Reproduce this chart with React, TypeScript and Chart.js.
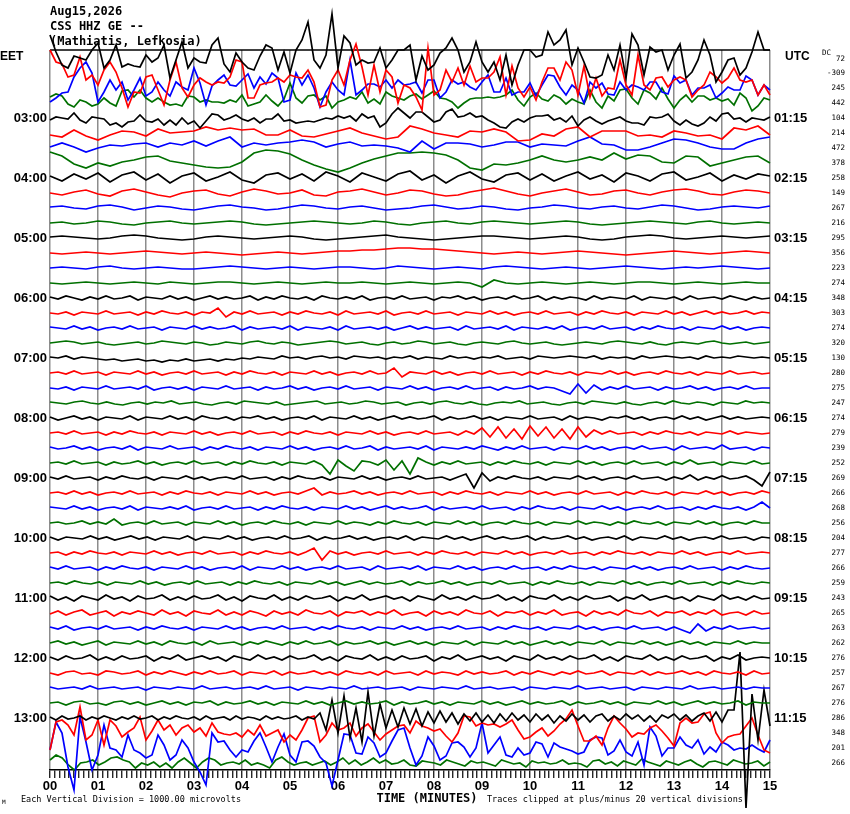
import React, { useEffect, useRef } from 'react';
import { Chart, registerables } from 'chart.js';

Chart.register(...registerables);

// ---------- labels ----------
const titleLines = ['Aug15,2026', 'CSS HHZ GE --', '(Mathiatis, Lefkosia)'];
const minuteLabels = ['00', '01', '02', '03', '04', '05', '06', '07', '08', '09', '10', '11', '12', '13', '14', '15'];
const eetHourLabels = ['03:00', '04:00', '05:00', '06:00', '07:00', '08:00', '09:00', '10:00', '11:00', '12:00', '13:00'];
const utcHourLabels = ['01:15', '02:15', '03:15', '04:15', '05:15', '06:15', '07:15', '08:15', '09:15', '10:15', '11:15'];
const dcOffsets = [72, -309, 245, 442, 104, 214, 472, 378, 258, 149, 267, 216, 295, 356, 223, 274, 348, 303, 274, 320, 130, 280, 275, 247, 274, 279, 239, 252, 269, 266, 268, 256, 204, 277, 266, 259, 243, 265, 263, 262, 276, 257, 267, 276, 286, 348, 201, 266];
const traceColors = ['#000000', '#ff0000', '#0000ff', '#007000'];

// ---------- trace deflections (1 unit = 1/15 of a row spacing), evenly spaced over 0..15 min ----------
const row00 = [23,6,-7,-10,2,0,-2,8,15,-10,-2,13,-9,-6,-8,-9,3,-4,0,13,-20,-2,16,-10,0,-4,-5,13,20,-6,-14,5,-4,-10,-12,2,13,10,-12,6,-15,8,18,36,-2,-10,3,44,-10,22,15,-7,-2,-5,-4,10,-10,-2,8,8,13,-22,2,-12,-7,5,10,20,8,-14,-4,16,-4,-14,-4,-22,3,-27,-7,8,8,1,3,26,13,18,28,-7,10,-4,-19,-20,-17,3,-12,13,-20,24,13,-17,11,6,8,-12,3,14,-20,-14,-2,18,3,-24,-14,-2,0,-17,-10,6,26,8,8];
const row01 = [23,11,9,-4,-2,16,-7,-2,-12,3,11,1,-15,-34,-19,-20,-4,-2,-17,-32,-7,11,-15,-24,-12,-5,-9,-12,-9,-10,-4,13,11,-25,-25,-12,-10,-9,-5,-9,-2,-4,-5,3,-9,-34,-32,-7,3,-12,13,29,6,-22,8,-19,3,-4,-30,-12,-15,-24,-37,25,-22,-17,3,-9,5,-12,7,-9,-5,-5,1,16,-22,7,-15,-24,-14,-27,-9,5,5,-7,11,3,-22,7,-24,-5,-23,-15,-16,13,-12,-22,18,-12,-17,-5,-4,-14,-7,-4,-7,-24,-17,-12,1,-4,-10,-5,5,-7,-9,-7,-22,-12,-22];
const row02 = [-14,-10,-5,-4,11,20,26,15,-14,-4,8,-2,6,-12,-2,10,-8,-4,6,-2,-8,6,1,-2,20,5,-17,2,8,13,3,2,8,14,0,11,4,15,10,-14,-12,15,3,13,0,-19,-4,6,-2,-7,28,-7,-2,4,4,1,8,0,8,3,4,6,-5,8,8,-10,-4,8,4,6,1,-2,6,13,-4,-4,10,-7,-4,-4,5,-8,3,13,12,1,-7,3,-2,-15,6,0,5,-6,-7,6,-2,3,1,-2,6,6,-4,-6,12,5,8,-7,0,0,3,-10,-5,1,-2,-2,12,8,-7,3,-2];
const row03 = [6,9,7,-1,-4,3,1,-3,-1,5,0,-3,12,13,6,13,5,1,5,1,-2,-1,-3,7,6,1,3,1,1,0,3,1,8,-3,-1,1,8,2,-3,4,20,5,0,7,8,3,7,-5,1,3,6,4,11,0,4,-1,11,7,5,3,7,9,4,8,12,5,4,1,-5,0,4,5,5,6,5,6,8,13,3,-3,6,10,4,2,8,5,-1,4,1,-1,13,1,-5,7,2,13,14,5,-1,13,10,4,15,4,-5,3,8,1,7,7,3,5,2,4,-2,10,5,-8,-3,5,3];
const row04 = [-2,1,0,-1,5,-2,-5,1,0,-1,-7,-5,-9,-4,-3,3,-3,-4,-1,-7,-2,-7,0,-6,-3,-10,-3,4,3,-2,0,3,-1,-3,0,-5,-1,-1,4,-3,-2,-5,-4,-3,-4,-2,0,-1,2,0,2,-3,4,0,2,-9,-5,4,10,5,0,6,6,1,-4,-2,6,9,1,2,5,1,2,-2,-5,-9,-10,-4,-1,-4,0,2,2,3,-2,0,-4,2,-8,-2,1,-3,-6,-3,-1,1,-3,-5,-5,-7,1,0,1,4,-3,-7,-2,-6,-8,-5,1,-3,4,5,-1,0,-4,0,-1,-2,1];
const row05 = [-2,-4,3,-3,-7,-2,2,1,-3,4,0,1,2,6,3,5,3,4,-2,-2,3,-3,-4,-1,2,5,0,-3,-6,-4,7,4,0,-2,-4,2,1,4,1,-8,-7,-1,-3,4,6,-4,2,2,2,-3,-2,-4,2,0,-3,-2,-6,5,3,7,-2];
const row06 = [1,5,1,-4,0,3,2,4,5,1,5,3,7,2,7,11,1,5,3,5,6,8,6,1,4,6,2,3,2,0,-4,7,-1,5,5,4,1,3,6,6,1,4,3,2,7,11,4,3,-2,-2,1,5,9,8,5,1,-1,-1,5,9,11];
const row07 = [11,7,-1,-5,0,-3,1,3,6,7,2,0,-2,-4,-5,-4,1,10,13,12,9,3,-2,-6,-9,-5,0,4,7,10,10,11,10,8,3,-5,-7,-1,-2,0,3,7,3,1,3,6,3,10,4,8,7,1,0,7,6,-3,0,3,6,7,0];
const row08 = [2,-3,4,-1,5,-4,3,6,-2,4,-5,2,5,-3,1,6,-2,-5,3,5,-1,4,-3,6,2,-4,5,1,-3,4,7,-2,3,-5,2,6,-1,-4,3,5,-2,4,-3,2,6,-1,3,-4,5,2,-3,4,6,-2,1,5,-3,3,-1,4,2];
const row09 = [0,-2,1,3,-1,-3,2,4,1,-2,-4,0,2,3,-1,-3,1,4,2,-1,0,3,-2,-3,1,2,4,1,-2,0,3,2,-1,-3,-2,1,3,5,2,-1,-3,0,2,4,1,-2,-1,2,3,0,-2,1,3,4,2,-1,-2,1,3,2,0];
const row10 = [1,2,0,-1,2,3,1,-2,0,2,1,-1,-2,0,2,3,1,0,-2,-1,1,3,2,0,-1,1,2,0,-2,-1,0,2,3,1,-1,0,2,1,-1,-2,0,1,3,2,0,-1,1,2,0,-1,1,3,2,0,-2,-1,1,2,1,0,2];
const row11 = [0,1,-1,0,2,1,-1,-2,0,1,2,0,-1,0,1,2,1,-1,-2,-1,0,1,2,1,0,-1,0,2,1,-1,-2,0,1,2,0,-1,1,2,1,0,-1,0,1,2,1,-1,-2,-1,0,1,2,1,0,-1,1,2,0,-1,0,1,0];
const row12 = [1,2,1,0,-1,0,2,3,2,0,-1,-2,-1,1,2,1,0,-1,0,1,2,1,-1,-2,-1,0,1,2,3,1,0,-1,-2,-1,0,1,2,2,1,0,-1,0,1,2,1,-1,-2,-1,1,2,3,2,0,-1,0,1,2,1,0,1,2];
const row13 = [0,-1,0,1,0,-1,0,1,2,1,0,-1,0,1,0,-1,-2,-1,0,1,0,-1,0,1,2,2,3,3,4,5,5,4,4,3,2,1,0,-1,0,1,0,-1,0,1,2,1,0,-1,-2,-1,0,1,2,1,0,-1,0,1,2,1,0];
const row14 = [0,1,0,-1,1,2,0,-1,0,1,0,-1,-1,0,1,2,1,0,-1,0,1,0,-1,0,1,1,0,-1,0,2,1,0,-1,0,1,0,-1,1,2,1,0,-1,0,1,0,-1,0,1,2,1,0,-1,0,1,0,1,2,1,0,-1,0];
const row15 = [0,-1,0,1,0,-1,0,1,0,-1,1,0,-1,0,1,1,0,-1,0,1,0,-1,0,1,0,0,1,0,-1,0,1,0,-1,0,1,0,-4,3,0,-1,0,1,0,-1,0,1,0,-1,0,1,1,0,-1,0,1,0,-1,0,1,0,0];
const row16 = [1,-1,2,0,-2,1,-1,2,-1,0,2,-2,1,0,-1,2,-1,1,-2,0,2,-1,1,-1,0,2,-2,1,-1,2,0,-1,1,-2,2,0,-1,1,-1,2,-2,0,1,-1,2,-1,0,1,-2,1,0,2,-1,1,-2,0,1,-1,2,-1,0,2,-2,1,-1,1,0,-2,2,-1,1,0,-1,2,-2,1,0,-1,1,-2,2,-1,0,1,-1,2,0,-2,1,-1,0];
const row17 = [0,-1,1,-2,1,0,-1,2,-1,0,1,-2,1,-1,2,0,-1,1,-2,1,0,5,-4,1,-1,2,-1,0,1,-2,1,-1,2,0,-1,1,-2,2,-1,0,1,-1,2,-2,0,1,-1,2,-1,0,1,-2,1,0,-1,2,-1,1,-2,0,1,-1,2,-1,0,1,-2,1,-1,2,0,-1,1,-2,1,0,-1,2,-1,1,-2,0,2,-1,1,-1,0,2,-1,1,0];
const row18 = [1,0,-1,2,-1,1,-2,0,1,-1,2,-1,0,1,-2,1,0,-1,2,-1,1,-1,0,2,-2,1,-1,0,1,-1,2,-2,1,0,-1,1,-2,2,-1,0,1,-1,1,-2,0,2,-1,1,-1,0,1,-2,2,-1,0,1,-1,2,-2,1,0,-1,1,-1,2,-2,0,1,-1,2,-1,0,1,-2,1,-1,2,0,-1,1,-2,1,0,-1,2,-1,1,-2,0,1,0];
const row19 = [0,1,2,1,-1,0,1,-1,-2,-1,0,1,-1,0,2,1,0,-1,1,0,-2,-1,1,0,-1,1,2,0,-1,1,0,-2,-1,0,1,2,1,-1,0,1,-1,-2,0,1,-1,0,2,1,-1,0,1,-1,-2,0,1,0,-1,1,2,0,-1,0,1,-1,-2,-1,0,1,0,-1,1,2,1,0,-1,1,-1,-2,0,1,0,-1,1,2,0,-1,0,1,-1,0,1];
const row20 = [1,0,2,-1,1,0,-1,-2,-1,-3,-2,-1,-3,-2,-4,-2,-3,-1,-3,-2,-1,-3,-1,-2,0,-1,1,0,-1,2,0,1,-1,1,2,0,1,-1,2,1,0,1,-1,1,0,2,-1,1,0,-1,2,0,1,-1,1,0,2,-1,0,1,-1,2,1,0,1,2,1,0,2,-1,1,0,1,-1,2,0,1,2,1,0,1,-1,2,0,1,0,2,1,0,1,0];
const row21 = [0,1,-1,2,-1,0,1,-2,1,0,-1,2,-1,1,-2,0,1,-1,2,-1,0,1,-2,1,-1,2,0,-1,1,-2,1,0,-1,2,-1,1,-2,0,1,-1,2,-1,0,5,-4,1,0,-1,2,-1,1,-2,0,1,-1,2,-1,0,1,-2,1,-1,2,0,-1,1,-2,1,0,-1,2,-1,1,-2,0,1,-1,2,0,-1,1,-2,1,0,-1,2,-1,0,1,-1,0];
const row22 = [0,-1,1,-2,1,0,-1,2,-1,0,1,-1,2,-2,0,1,-1,1,-2,1,0,-1,2,-1,0,1,-2,1,-1,0,2,-1,1,-2,0,1,-1,2,-1,0,1,-2,1,0,-1,2,-1,1,-2,0,1,-1,2,-1,0,1,-2,1,-1,0,2,-1,1,0,-3,-6,4,-5,3,-2,1,-1,2,-1,0,1,-2,1,-1,0,2,-1,1,-2,0,1,-1,2,-1,0,0];
const row23 = [1,0,-1,1,2,0,-1,1,-1,-2,0,1,-1,1,0,2,-1,0,1,-1,-2,0,1,-1,2,1,0,-1,1,-2,-1,0,1,2,-1,0,1,-1,0,2,1,-1,0,1,-2,0,1,-1,1,2,0,-1,1,-1,-2,0,1,0,2,-1,0,1,-1,-2,0,1,-1,2,1,0,-1,1,-1,-2,0,1,-1,2,0,-1,1,0,-2,1,0,-1,2,0,1,0];
const row24 = [1,-2,0,2,-1,1,-2,1,0,-1,2,-2,1,0,-1,2,-1,1,-2,2,0,-1,1,-2,1,0,2,-1,1,-2,0,1,-1,2,-2,1,0,-1,2,-1,1,-2,0,2,-1,1,-1,0,2,-2,1,-1,0,2,-1,1,-2,1,0,-1,2,-1,0,1,-2,2,-1,1,0,-2,1,0,2,-1,1,-2,0,1,-1,2,-1,1,-2,0,2,-1,1,-1,0,1,0];
const row25 = [0,1,-1,2,-1,0,1,-2,1,-1,2,0,-1,1,-2,1,0,-1,2,-1,1,-2,0,1,-1,2,-1,0,1,-2,1,-1,2,0,-1,1,-2,1,0,-1,2,-1,1,-2,0,1,-1,2,-1,0,1,-2,2,-1,5,-4,6,-5,4,-6,7,-3,6,-5,4,-6,6,-4,3,-1,2,-1,0,1,-2,1,-1,2,0,-1,1,-2,1,0,-1,2,-1,1,0,-1,0];
const row26 = [1,-1,0,2,-1,1,-2,0,1,-1,2,-2,1,0,-1,2,-1,0,1,-2,1,-1,2,0,-1,1,-2,1,0,-1,2,-1,1,-2,0,1,-1,2,-1,0,2,-2,1,-1,0,1,-1,2,-2,1,0,-1,1,-1,2,0,-2,1,-1,2,-1,0,1,-2,1,0,-1,2,-1,1,-2,0,1,-1,2,-1,0,1,-2,2,-1,0,1,-1,3,-1,0,1,-2,1,0];
const row27 = [0,1,-1,2,-1,0,1,-2,1,-1,0,2,-1,1,-2,0,1,-1,2,-1,0,1,-2,1,-1,2,0,-1,1,-2,1,0,-1,2,-2,-11,3,-3,-8,2,1,-2,3,-7,2,-11,5,1,-2,1,-1,2,-1,0,1,-2,1,-1,2,0,-1,1,-2,1,0,-1,2,-1,1,-2,0,1,-1,2,-1,0,1,-2,1,-1,3,-1,0,1,-2,1,0,-1,2,-1,0];
const row28 = [1,-1,2,-1,0,1,-2,1,-1,2,0,-1,1,-2,1,0,-1,2,-1,1,-2,0,1,-1,2,-1,0,1,-2,1,-1,2,0,-1,1,-2,1,0,-1,2,-1,1,-2,0,1,-1,2,-1,0,1,-2,1,4,-10,5,-3,1,-1,2,0,-1,1,-2,1,0,-1,2,-1,1,-2,0,1,-1,2,-1,0,1,-2,1,-1,3,-2,1,-1,2,-1,0,2,-2,-8,6];
const row29 = [0,1,-1,2,-1,1,-2,0,1,-1,2,-1,0,1,-2,1,-1,2,0,-1,1,-2,1,0,-1,2,-1,1,-2,0,1,-1,2,5,-2,1,-1,0,2,-1,1,-2,0,1,-1,2,-1,0,1,-2,1,-1,2,0,-1,1,-2,1,0,-1,2,-1,1,-2,0,1,-1,2,-1,0,1,-2,1,-1,2,0,-1,1,-2,1,0,-1,2,-1,1,-2,0,1,-1,2,0];
const row30 = [1,0,-1,2,-1,1,-2,0,1,-1,2,-2,1,0,-1,1,-1,2,-2,0,1,-1,2,-1,0,1,-2,1,-1,2,0,-1,1,-2,1,0,-1,2,-1,1,-2,0,2,-1,1,-1,0,2,-2,1,-1,0,1,-1,2,-1,0,1,-2,1,-1,2,0,-1,1,-2,1,0,-1,2,-1,1,-2,0,1,-1,2,-1,0,1,-2,1,-1,2,0,-1,1,-2,1,6,0];
const row31 = [0,1,-1,0,2,-1,1,-1,4,-2,0,1,-1,2,-1,0,1,-2,1,0,-1,2,-1,1,-2,0,1,-1,2,0,-1,1,-2,1,0,-1,2,-1,1,0,-2,1,-1,2,0,-1,1,-2,1,0,-1,2,-1,1,-2,0,1,-1,2,0,-1,1,-2,1,0,-1,2,-1,1,0,-2,1,-1,2,0,-1,1,-2,1,0,-1,2,-1,1,-2,0,1,-1,2,0,0];
const row32 = [1,-2,1,0,-1,2,-1,1,-2,0,2,-1,1,-2,1,0,-1,2,-2,1,0,-1,2,-1,1,-2,0,1,-1,2,-1,0,2,-2,1,-1,0,2,-1,1,-2,0,1,-1,2,-2,1,0,-1,2,-1,1,-2,0,2,-1,1,-1,0,2,-2,1,-1,0,2,-1,1,-2,0,1,-1,2,-2,1,0,-1,2,-1,1,-2,0,1,-1,2,-1,0,1,-2,1,0];
const row33 = [0,1,-2,1,-1,2,0,-1,1,-2,1,0,-1,2,-1,1,-2,0,1,-1,2,-1,0,1,-2,1,-1,2,0,-1,1,-2,1,5,-7,2,-1,1,-2,0,1,-1,2,-1,0,1,-2,1,-1,2,0,-1,1,-2,1,0,-1,2,-1,1,-2,0,1,-1,2,-1,0,1,-2,1,-1,2,0,-1,1,-2,1,0,-1,2,-1,1,-2,0,1,-1,2,-1,0,1,0];
const row34 = [1,-1,2,-1,0,1,-2,1,-1,2,0,-1,1,-2,1,0,-1,2,-1,1,-2,0,1,-1,2,-2,1,0,-1,2,-1,1,-2,0,1,-1,2,-1,0,1,-2,2,-1,0,1,-1,2,-2,1,0,-1,2,-1,1,-2,0,1,-1,2,-1,0,1,-2,1,-1,2,0,-1,1,-2,1,0,-1,2,-1,1,-2,0,1,-1,2,-1,0,1,-2,1,-1,2,0,-1,0];
const row35 = [0,1,-1,2,0,-1,1,-2,1,0,-1,2,-1,1,-2,0,1,-1,2,-1,0,1,-2,1,-1,2,0,-1,1,-2,1,0,-1,2,-1,1,-2,0,2,-1,1,-1,0,2,-2,1,-1,0,2,-1,1,-2,0,1,-1,2,-1,0,1,-2,1,-1,2,0,-1,1,-2,1,0,-1,2,-1,1,-2,0,1,-1,2,-1,0,1,-2,1,-1,2,0,-1,1,0];
const row36 = [2,-2,1,-3,2,0,-2,3,-1,1,-3,2,-1,0,3,-2,1,-2,2,-1,0,3,-2,1,-3,2,0,-1,3,-2,1,-2,2,-1,0,2,-3,1,-1,3,-2,0,2,-1,1,-3,2,0,-2,3,-1,1,-2,2,-1,0,3,-2,1,-3,2,0,-1,3,-2,1,-2,2,-1,0,2,-3,1,-1,3,-2,0,2,-1,1,-3,2,0,-2,3,-1,1,-2,2,-1,0];
const row37 = [-1,2,-2,1,3,-2,0,2,-3,1,-1,2,0,-2,3,-1,1,-3,2,0,-1,3,-2,1,-2,2,0,-3,2,-1,1,-2,3,0,-1,2,-3,1,0,2,-2,1,-1,3,-2,0,1,-3,2,-1,1,-2,3,0,-1,2,-3,1,0,2,-2,1,-1,3,-2,0,1,-3,2,-1,1,-2,3,0,-1,2,-3,1,0,2,-2,1,-1,3,-2,0,1,-2,2,-1,0];
const row38 = [1,-1,2,-2,0,1,-1,2,-1,0,1,-2,1,-1,2,0,-1,1,-2,1,0,-1,2,-1,1,-2,0,1,-1,2,-1,0,1,-2,1,-1,2,0,-1,1,-2,1,0,-1,2,-1,1,-2,0,1,-1,2,-1,0,1,-2,1,-1,2,0,-1,1,-2,1,0,-1,2,-1,1,-2,0,1,-1,2,-1,0,1,-2,1,-2,-5,4,-3,1,-1,2,-1,0,1,-1,0];
const row39 = [0,2,-1,1,-2,0,2,-2,1,0,-1,2,-1,1,-2,2,0,-1,1,-2,2,-1,0,1,-2,1,-1,2,0,-2,1,-1,2,-1,0,2,-2,1,-1,0,2,-1,1,-2,0,2,-1,1,-2,1,0,-1,2,-2,1,0,-1,2,-1,1,-2,0,2,-1,1,-2,1,0,-1,2,-2,1,0,-1,2,-1,1,-2,0,2,-1,1,-2,1,0,-1,2,-1,1,0,0];
const row40 = [1,-2,2,-1,0,3,-2,1,-2,2,-1,0,2,-3,1,-1,3,-2,0,2,-1,1,-3,2,0,-2,3,-1,1,-2,2,-1,0,3,-2,1,-3,2,0,-1,3,-2,1,-2,2,-1,0,2,-3,1,-1,3,-2,0,2,-1,1,-3,2,0,-2,3,-1,1,-2,2,-1,0,3,-2,1,-3,2,0,-1,3,-2,1,-2,2,-1,0,2,-3,1,-1,3,-2,0,1,0];
const row41 = [0,-2,1,2,-1,0,-2,2,1,-1,0,2,-2,1,-1,2,0,-2,1,-1,2,-1,0,2,-2,1,0,-1,2,-2,1,-1,0,2,-1,1,-2,2,0,-1,1,-2,2,-1,0,1,-2,2,-1,1,0,-2,2,-1,1,-1,0,2,-2,1,-1,2,0,-2,1,-1,2,-1,0,2,-2,1,0,-1,2,-2,1,-1,0,2,-1,1,-2,2,0,-1,1,-2,2,-1,0];
const row42 = [1,-1,0,1,-1,2,-1,0,1,-1,0,1,-2,1,0,-1,1,0,-1,2,-1,0,1,-1,0,1,-1,2,-1,0,1,-2,1,0,-1,1,0,-1,2,-1,0,1,-1,0,1,-2,1,0,-1,1,0,-1,2,-1,0,1,-1,0,1,-2,1,0,-1,1,0,-1,2,-1,0,1,-1,0,1,-2,1,0,-1,1,0,-1,2,-1,0,1,-1,0,1,-1,1,0,0];
const row43 = [0,1,-2,1,2,-1,0,-2,1,2,-1,1,-2,0,2,-1,1,-2,1,0,2,-2,1,-1,0,2,-1,1,-2,1,0,-1,2,-1,1,-2,0,2,-1,1,-1,0,2,-2,1,-1,0,2,-1,1,-2,1,0,-1,2,-1,1,-2,0,2,-1,1,-1,0,2,-2,1,-1,0,2,-1,1,-2,1,0,-1,2,-1,1,-2,0,2,-1,1,-1,0,2,-2,1,0,0];
const row44 = [1,-2,2,-1,0,2,-2,1,-1,2,0,-2,1,-1,2,-1,0,2,-2,1,-1,2,0,-1,1,-2,2,-1,0,1,-2,2,-1,1,0,-2,2,-1,1,-1,0,2,-2,1,-1,5,-12,18,-15,22,-20,10,-24,26,-18,14,-10,8,-9,10,-6,9,-8,6,-5,7,-4,5,-6,4,-3,5,-4,3,-5,4,-3,5,-2,3,-4,4,-2,3,-5,2,-3,4,-2,3,-4,2,4,-3,2,-2,4,-1,3,-3,2,-4,3,0,4,-2,3,-3,2,5,-3,6,-4,8,8,66,-90,24,-22,28,-8];
const row45 = [-17,11,13,8,-2,26,-7,-2,13,-12,13,7,-4,1,5,16,-7,2,13,3,8,-2,5,8,1,5,-3,10,1,-1,-2,0,-4,3,-2,8,-3,0,3,-9,-2,-7,3,15,17,-9,-2,10,3,5,10,-3,5,9,1,-7,-1,3,7,8,0,12,7,5,2,4,-3,-9,0,17,16,7,10,8,9,6,9,13,3,-6,-4,1,5,-3,2,9,14,23,7,-8,-8,-3,-12,5,17,10,4,-4,0,-1,5,8,2,-5,-13,10,15,10,11,19,21,0,-10,-4,-2,-1,7,15,-2,-17,-20];
const row46 = [-2,26,15,-19,-42,31,6,-22,-7,23,0,-2,-9,13,-2,-5,-10,-7,13,3,-12,-7,8,0,-14,-24,-37,15,6,7,-2,-9,-2,-4,7,15,1,-14,1,14,-7,-14,6,7,2,-9,-15,-38,-12,14,13,-5,-6,11,5,-9,-5,7,18,20,0,-17,-8,11,2,-12,-8,5,6,1,-9,0,25,-5,3,11,-7,-9,0,-7,-5,6,4,-9,5,1,-1,-3,-6,-4,8,11,10,-7,-3,8,-4,-8,6,-17,21,12,-8,0,0,11,3,0,8,-6,1,-4,6,3,-2,0,-1,3,-1,-4,8];
const row47 = [3,8,5,-2,-7,0,1,3,-2,1,5,6,3,1,-5,0,-2,1,-4,0,-5,1,5,0,-5,1,5,3,-2,0,1,-1,3,-2,0,-2,-5,3,6,1,-2,0,1,-2,0,2,-2,1,5,-1,3,-2,1,5,0,3,-1,0,3,-2,-3,2,1,0,-2,3,1,-1,-3,2,0,1,-1,-3,3,1,-1,0,-4,2,0,1,-1,0,3,-1,0,-1,-4,2,3,-1,1,-3,2,0,-2,4,1,-1,-3,2,0,-2,1,3,-1,-4,1,2,0,-2,3,1,-1,0,2,-3,1];

const traces = [
  row00, row01, row02, row03, row04, row05, row06, row07, row08, row09, row10, row11,
  row12, row13, row14, row15, row16, row17, row18, row19, row20, row21, row22, row23,
  row24, row25, row26, row27, row28, row29, row30, row31, row32, row33, row34, row35,
  row36, row37, row38, row39, row40, row41, row42, row43, row44, row45, row46, row47,
];

const MINUTES = 15;
const UNITS_PER_ROW = 15;

const textPlugin = {
  id: 'helicorderText',
  beforeDatasetsDraw(chart: any) {
    const { ctx, chartArea } = chart;
    ctx.save();
    ctx.strokeStyle = '#000';
    ctx.lineWidth = 1.5;
    ctx.beginPath();
    ctx.moveTo(chartArea.left, chartArea.top);
    ctx.lineTo(chartArea.right, chartArea.top);
    ctx.stroke();
    ctx.restore();
  },
  afterDraw(chart: any) {
    const { ctx, chartArea } = chart;
    const ys = chart.scales.y;
    ctx.save();
    ctx.fillStyle = '#000';
    ctx.textBaseline = 'middle';
    ctx.textAlign = 'left';
    ctx.font = 'bold 12px "DejaVu Sans Mono"';
    titleLines.forEach((t, k) => ctx.fillText(t, chartArea.left, 12 + 15 * k));

    const row0 = ys.getPixelForValue(0);
    ctx.font = 'bold 12px "Liberation Sans"';
    ctx.fillText('EET', 0, row0 - 1);
    ctx.fillText('UTC', 785, row0 - 1);

    ctx.font = 'bold 13px "Liberation Sans"';
    utcHourLabels.forEach((t, k) => {
      ctx.fillText(t, 774, ys.getPixelForValue(-4 * (k + 1)));
    });

    ctx.font = '7.5px "DejaVu Sans Mono"';
    ctx.textAlign = 'right';
    dcOffsets.forEach((d, r) => {
      ctx.fillText(String(d), 845, ys.getPixelForValue(-r) + (r === 0 ? 1 : 0));
    });
    ctx.textAlign = 'left';
    ctx.fillText('DC', 822, row0 - 5);

    ctx.font = 'bold 12px "DejaVu Sans Mono"';
    ctx.textAlign = 'center';
    ctx.fillText('TIME (MINUTES)', 427, 799);
    ctx.font = '8.5px "DejaVu Sans Mono"';
    ctx.textAlign = 'left';
    ctx.fillText('Each Vertical Division = 1000.00 microvolts', 21, 800);
    ctx.fillText('Traces clipped at plus/minus 20 vertical divisions', 487, 800);
    ctx.font = '6px "DejaVu Sans Mono"';
    ctx.fillText('M', 2, 802);
    ctx.restore();
  },
};

export default function App() {
  const canvasRef = useRef<HTMLCanvasElement>(null);

  useEffect(() => {
    document.body.style.margin = '0';
    const canvas = canvasRef.current;
    if (!canvas) return;

    const datasets = traces.map((vals, r) => ({
      data: vals.map((v, i) => ({ x: (i * MINUTES) / (vals.length - 1), y: -r + v / UNITS_PER_ROW })),
      borderColor: traceColors[r % 4],
      borderWidth: 1.7,
      pointRadius: 0,
      fill: false,
      tension: 0,
      clip: false as any,
    }));

    const chart = new Chart(canvas, {
      type: 'line',
      data: { datasets },
      options: {
        animation: false,
        responsive: false,
        devicePixelRatio: 1,
        events: [],
        layout: { padding: { top: 50, right: 80, left: 0, bottom: 0 } },
        plugins: { legend: { display: false }, tooltip: { enabled: false }, title: { display: false } },
        scales: {
          x: {
            type: 'linear',
            min: 0,
            max: MINUTES,
            afterFit: (s: any) => { s.height = 44; },
            afterBuildTicks: (s: any) => {
              s.ticks = Array.from({ length: MINUTES * 10 + 1 }, (_, i) => ({ value: i / 10 }));
            },
            ticks: {
              autoSkip: false,
              maxRotation: 0,
              minRotation: 0,
              padding: 1,
              color: '#000',
              font: { family: 'Liberation Sans', size: 13, weight: 'bold' },
              callback: (_v: any, i: number) => (i % 10 === 0 ? minuteLabels[i / 10] : ''),
            },
            grid: {
              color: (c: any) => (c.index % 10 === 0 ? '#8c8c8c' : 'rgba(0,0,0,0)'),
              lineWidth: 1.5,
              tickColor: '#000',
              tickLength: 8,
              tickWidth: 1.2,
            },
            border: { display: true, color: '#000', width: 1.5 },
          },
          y: {
            type: 'linear',
            min: -(traces.length - 1) - 7 / UNITS_PER_ROW,
            max: 8 / UNITS_PER_ROW,
            afterFit: (s: any) => { s.width = 50; },
            afterBuildTicks: (s: any) => {
              s.ticks = eetHourLabels.map((_, k) => ({ value: -4 * (k + 1) }));
            },
            ticks: {
              autoSkip: false,
              padding: 3,
              color: '#000',
              font: { family: 'Liberation Sans', size: 13, weight: 'bold' },
              callback: (_v: any, i: number) => eetHourLabels[i],
            },
            grid: { display: false, drawTicks: false },
            border: { display: false },
          },
        },
      } as any,
      plugins: [textPlugin],
    });

    return () => chart.destroy();
  }, []);

  return (
    <div style={{ position: 'absolute', left: 0, top: 0, width: 850, height: 814, background: '#fff' }}>
      <canvas ref={canvasRef} width={850} height={814} style={{ display: 'block', width: 850, height: 814 }} />
    </div>
  );
}
